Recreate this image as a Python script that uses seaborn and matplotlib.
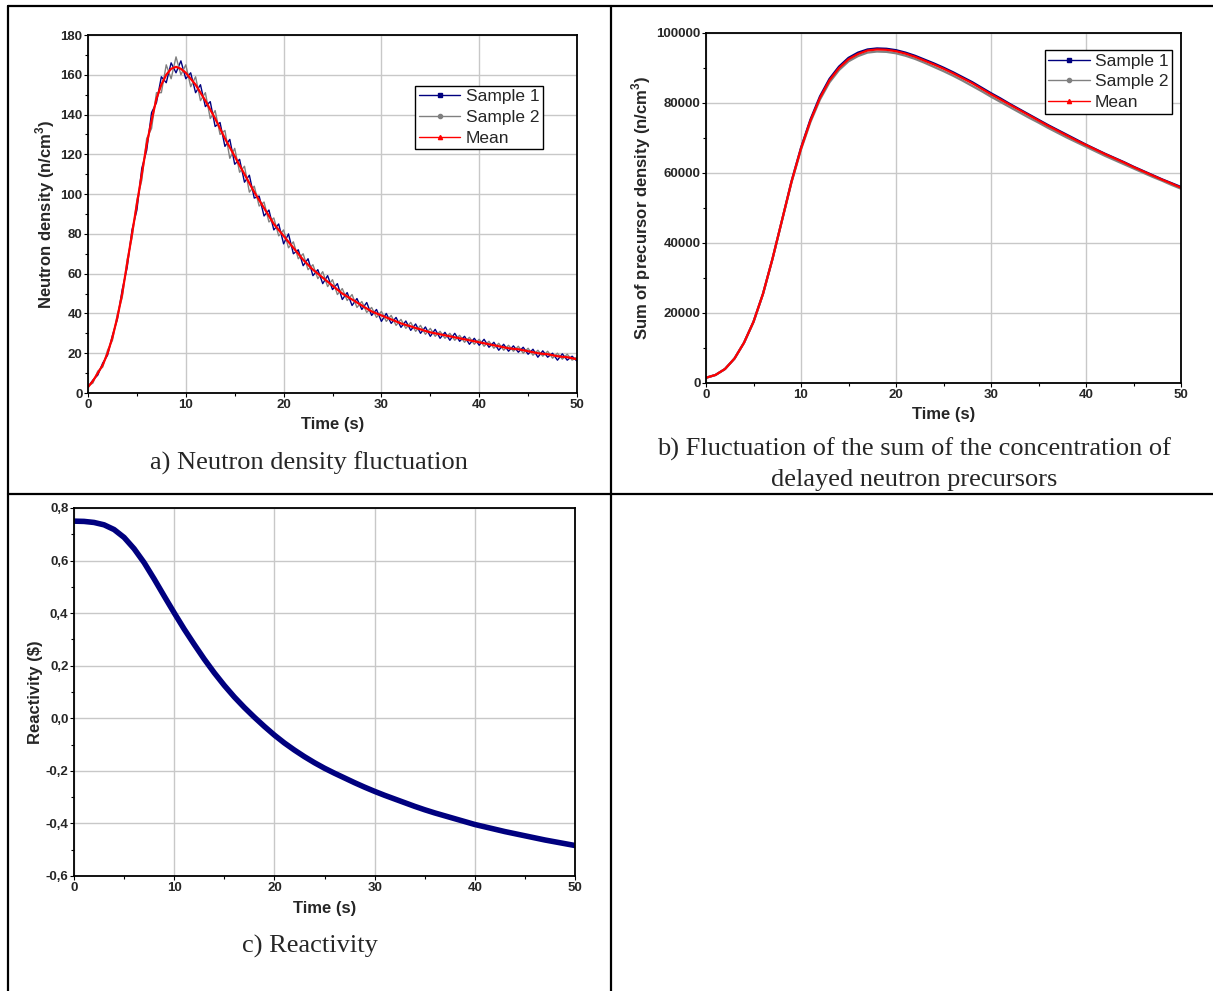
import matplotlib
matplotlib.use("Agg")
import matplotlib.pyplot as plt
from matplotlib.lines import Line2D
from matplotlib.ticker import MultipleLocator, FuncFormatter
import seaborn as sns
import numpy as np

# ---- data ----
time_half = np.arange(0, 50.5, 0.5)   # 0.5 s steps
time_one = np.arange(0, 51, 1.0)      # 1 s steps

# a) neutron density (n/cm3)
dens_s1 = [3, 6.5, 9, 15, 19, 29, 37, 52, 63, 82,
           92, 113, 122, 141, 146, 159, 156, 166, 161, 167,
           158, 161, 151, 155, 144, 146.5, 134, 136, 124, 127.5,
           115, 117.5, 106, 109.5, 98, 99, 89, 92, 82, 85,
           75, 80, 70, 72, 64, 67.5, 59, 62, 55, 59,
           52, 55, 47, 50.5, 44, 47.5, 42, 45.5, 39, 42,
           36, 40, 35, 38, 33, 36.2, 31.5, 34.7, 30, 33.2,
           28.5, 32, 27.5, 30.5, 26.5, 30, 26, 28.5, 24.5, 27.5,
           24, 27, 23, 25.5, 21.5, 24.5, 21, 23.7, 20.5, 23,
           19.5, 22, 18, 21.2, 18, 20, 16.5, 19.7, 16.5, 18.5,
           16]
dens_s2 = [3.5, 5, 11, 13, 21.5, 26.5, 39.5, 48, 67, 78,
           97, 107, 128, 133, 151, 151, 165, 158, 169, 160,
           165, 154, 159, 147, 151, 138, 142, 130, 132, 118,
           123, 111, 114, 101, 104, 94, 96, 86, 88, 79,
           82, 73, 76, 67.5, 70, 62, 64.5, 57.5, 61, 53.5,
           57, 49.5, 52.5, 46.5, 49.5, 43, 46, 40.5, 43, 38,
           41, 36, 39, 34, 37, 32.5, 35.5, 31, 34, 29.5,
           32.5, 28.5, 31, 27.5, 30, 26.5, 29, 25.5, 28, 24.5,
           27, 23.5, 26, 22.5, 25, 21.5, 24, 21, 23.5, 20,
           22.5, 19, 21.5, 18.5, 21, 17.5, 20, 17, 19.5, 16.5,
           18]
dens_mean = [3, 6, 10, 14, 20, 28, 38, 50, 65, 80,
             95, 110, 125, 137, 148, 155, 160, 163, 164, 163,
             161, 158, 155, 151, 147, 142.5, 138, 133, 128, 123.5,
             119, 114.5, 110, 105.5, 101, 97, 93, 89, 85, 82,
             79, 76, 73, 70, 67, 64.5, 62, 60, 58, 56,
             54, 52, 50, 48.5, 47, 45.5, 44, 42.5, 41, 40,
             39, 38, 37, 36, 35, 34.2, 33.5, 32.7, 32, 31.2,
             30.5, 30, 29.5, 29, 28.5, 28, 27.5, 27, 26.5, 26,
             25.5, 25, 24.5, 24, 23.5, 23, 22.5, 22.2, 22, 21.5,
             21, 20.5, 20, 19.7, 19.5, 19, 18.5, 18.2, 18, 17.5,
             17]

# b) sum of precursor density (n/cm3)
prec_s1 = [1500, 2300, 4000, 7000, 11500, 17500, 25500, 35500, 46500, 57600,
           67200, 75300, 81900, 86900, 90400, 92900, 94400, 95300, 95600, 95500,
           95100, 94400, 93500, 92400, 91300, 90100, 88800, 87400, 86000, 84400,
           82800, 81300, 79700, 78200, 76700, 75200, 73700, 72300, 70900, 69500,
           68100, 66800, 65500, 64300, 63100, 61800, 60600, 59400, 58200, 57100,
           56000]
prec_s2 = [1500, 2300, 4000, 7000, 11500, 17400, 25400, 35400, 46400, 57300,
           66700, 74600, 81000, 85900, 89400, 91900, 93400, 94400, 94700, 94600,
           94200, 93500, 92600, 91500, 90300, 89100, 87800, 86400, 84900, 83400,
           81800, 80300, 78800, 77300, 75800, 74400, 72900, 71500, 70100, 68800,
           67500, 66200, 64900, 63700, 62500, 61300, 60100, 58900, 57800, 56600,
           55500]
prec_mean = [1500, 2300, 4000, 7000, 11500, 17500, 25500, 35500, 46500, 57500,
             67000, 75000, 81500, 86500, 90000, 92500, 94000, 95000, 95300, 95200,
             94800, 94100, 93200, 92100, 91000, 89800, 88500, 87100, 85700, 84100,
             82500, 81000, 79500, 78000, 76500, 75000, 73500, 72100, 70700, 69300,
             68000, 66700, 65400, 64200, 63000, 61700, 60500, 59300, 58100, 57000,
             55800]

# c) reactivity ($)
react = [0.750, 0.749, 0.745, 0.736, 0.718, 0.688, 0.645, 0.592, 0.530, 0.465,
         0.401, 0.339, 0.281, 0.225, 0.173, 0.125, 0.081, 0.041, 0.004, -0.031,
         -0.064, -0.094, -0.121, -0.146, -0.169, -0.190, -0.209, -0.227, -0.245, -0.262,
         -0.278, -0.293, -0.307, -0.321, -0.335, -0.348, -0.360, -0.371, -0.382, -0.393,
         -0.404, -0.413, -0.422, -0.431, -0.439, -0.447, -0.455, -0.463, -0.470, -0.477,
         -0.484]

series_names = ["Sample 1", "Sample 2", "Mean"]
series_colors = ["#00007f", "#808080", "#ff0000"]
series_markers = ["s", "o", "^"]

# ---- style ----
sns.set_theme(style="whitegrid")
plt.rcParams["font.family"] = ["Liberation Sans", "DejaVu Sans"]
plt.rcParams["mathtext.fontset"] = "custom"
plt.rcParams["mathtext.bf"] = "Liberation Sans:bold"
plt.rcParams["mathtext.rm"] = "Liberation Sans"

W, H = 1213, 991
fig = plt.figure(figsize=(W / 100, H / 100), dpi=100)
fig.patch.set_facecolor("white")


def style_axes(ax, xlim, ylim, ymajor, yminor, ylabel):
    ax.set_facecolor("white")
    ax.set_xlim(*xlim)
    ax.set_ylim(*ylim)
    ax.xaxis.set_major_locator(MultipleLocator(10))
    ax.xaxis.set_minor_locator(MultipleLocator(5))
    ax.yaxis.set_major_locator(MultipleLocator(ymajor))
    ax.yaxis.set_minor_locator(MultipleLocator(yminor))
    ax.grid(True, which="major", color="#c8c8c8", lw=1.0)
    ax.grid(False, which="minor")
    for s in ax.spines.values():
        s.set_color("black")
        s.set_linewidth(1.3)
    ax.tick_params(which="both", direction="out", color="black",
                   left=True, bottom=True, width=0.8)
    ax.tick_params(which="major", length=3, pad=1, labelsize=9.5)
    ax.tick_params(which="minor", length=2)
    for lab in ax.get_xticklabels() + ax.get_yticklabels():
        lab.set_fontweight("bold")
    ax.set_xlabel("Time (s)", fontsize=12, fontweight="bold", labelpad=5)
    ax.set_ylabel(ylabel, fontsize=12, fontweight="bold", labelpad=2)


def add_legend(ax, anchor):
    handles = [Line2D([], [], color=c, lw=1.0, marker=m, markersize=3)
               for c, m in zip(series_colors, series_markers)]
    leg = ax.legend(handles, series_names, loc="upper right",
                    bbox_to_anchor=anchor, fontsize=12.5, frameon=True,
                    fancybox=False, framealpha=1, edgecolor="black",
                    handlelength=2.4, handletextpad=0.3, labelspacing=0.32,
                    borderpad=0.2, borderaxespad=0)
    leg.get_frame().set_linewidth(1.0)


# ---- a) neutron density ----
ax_a = fig.add_axes([88 / W, 1 - 393 / H, 489 / W, 358 / H])
sns.lineplot(x=time_half, y=dens_s1, ax=ax_a, color=series_colors[0], lw=1.0, estimator=None)
sns.lineplot(x=time_half, y=dens_s2, ax=ax_a, color=series_colors[1], lw=1.0, estimator=None)
sns.lineplot(x=time_half, y=dens_mean, ax=ax_a, color=series_colors[2], lw=1.6, estimator=None)
style_axes(ax_a, (0, 50), (0, 180), 20, 10, r"Neutron density (n/cm$^{\mathbf{3}}$)")
add_legend(ax_a, (0.930, 0.858))

# ---- b) precursors ----
ax_b = fig.add_axes([706 / W, 1 - 383 / H, 475 / W, 350 / H])
sns.lineplot(x=time_one, y=prec_s1, ax=ax_b, color=series_colors[0], lw=1.6, estimator=None)
sns.lineplot(x=time_one, y=prec_s2, ax=ax_b, color=series_colors[1], lw=1.6, estimator=None)
sns.lineplot(x=time_one, y=prec_mean, ax=ax_b, color=series_colors[2], lw=1.6, estimator=None)
style_axes(ax_b, (0, 50), (0, 100000), 20000, 10000,
           r"Sum of precursor density (n/cm$^{\mathbf{3}}$)")
add_legend(ax_b, (0.981, 0.951))

# ---- c) reactivity ----
ax_c = fig.add_axes([74 / W, 1 - 876 / H, 501 / W, 368 / H])
sns.lineplot(x=time_one, y=react, ax=ax_c, color="#00007f", lw=4.0, estimator=None,
             solid_joinstyle="round")
style_axes(ax_c, (0, 50), (-0.6, 0.8), 0.2, 0.1, "Reactivity ($)")
ax_c.set_yticks([-0.6, -0.4, -0.2, 0.0, 0.2, 0.4, 0.6, 0.8])
ax_c.yaxis.set_major_formatter(FuncFormatter(lambda v, p: f"{v:.1f}".replace(".", ",").replace("-0,0", "0,0")))
for lab in ax_c.get_yticklabels():
    lab.set_fontweight("bold")

# ---- captions ----
cap = dict(family=["Liberation Serif", "DejaVu Serif"], fontsize=19, ha="center", va="center")
fig.text(309 / W, 1 - 463 / H, "a) Neutron density fluctuation", **cap)
fig.text(914 / W, 1 - 449 / H, "b) Fluctuation of the sum of the concentration of", **cap)
fig.text(914 / W, 1 - 480 / H, "delayed neutron precursors", **cap)
fig.text(310 / W, 1 - 946 / H, "c) Reactivity", **cap)

# ---- table borders ----
bkw = dict(transform=fig.transFigure, color="black", lw=1.6)
fig.add_artist(Line2D([8 / W, 8 / W], [0, 1 - 6 / H], **bkw))
fig.add_artist(Line2D([8 / W, 1], [1 - 6 / H, 1 - 6 / H], **bkw))
fig.add_artist(Line2D([611 / W, 611 / W], [0, 1 - 6 / H], **bkw))
fig.add_artist(Line2D([8 / W, 1], [1 - 494 / H, 1 - 494 / H], **bkw))

fig.savefig("out.png", dpi=100)
